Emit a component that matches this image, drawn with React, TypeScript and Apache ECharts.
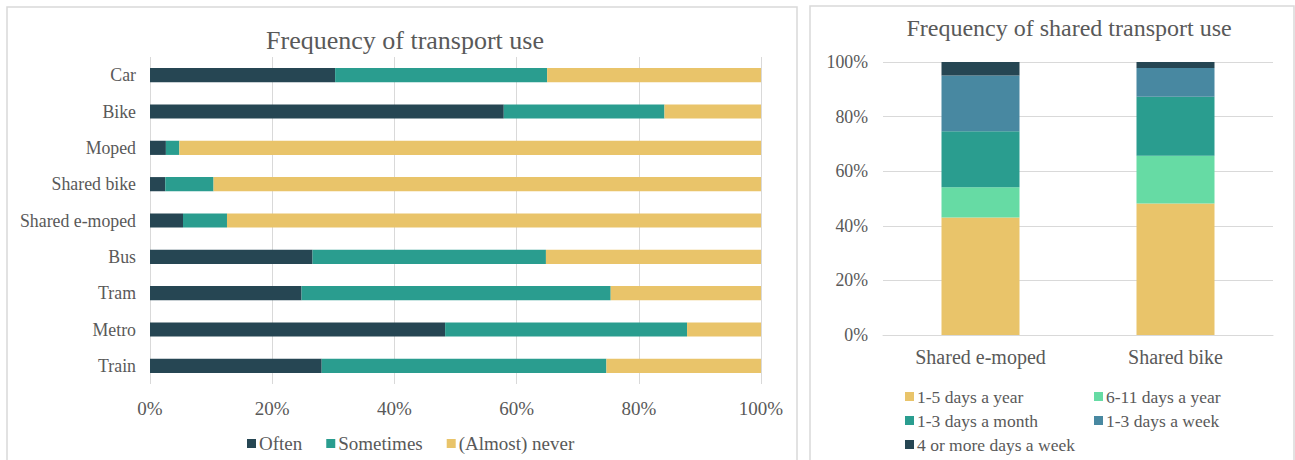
import React, { useEffect, useRef } from "react";
import * as echarts from "echarts";

const modes = ["Car", "Bike", "Moped", "Shared bike", "Shared e-moped", "Bus", "Tram", "Metro", "Train"];
const often = [30.3, 57.9, 2.6, 2.5, 5.4, 26.6, 24.8, 48.3, 28.1];
const sometimes = [34.7, 26.3, 2.2, 7.9, 7.2, 38.2, 50.6, 39.6, 46.6];
const never = [35.0, 15.8, 95.2, 89.6, 87.4, 35.2, 24.6, 12.1, 25.3];

const sharedModes = ["Shared e-moped", "Shared bike"];
const days1to5Year = [43.0, 48.2];
const days6to11Year = [11.1, 17.5];
const days1to3Month = [20.5, 21.6];
const days1to3Week = [20.5, 10.5];
const days4PlusWeek = [4.9, 2.2];

const C_DARK = "#264653";
const C_TEAL = "#2a9d8f";
const C_GOLD = "#e9c46a";
const C_MINT = "#66dba4";
const C_BLUE = "#4888a1";
const TXT = "#595959";
const FONT = "'Liberation Serif', 'DejaVu Serif', serif";

export default function App() {
  const ref = useRef<HTMLDivElement>(null);
  useEffect(() => {
    if (!ref.current) return;
    const chart = echarts.init(ref.current, undefined, { renderer: "svg" });
    const leftSeries = [
      { name: "Often", data: often, color: C_DARK },
      { name: "Sometimes", data: sometimes, color: C_TEAL },
      { name: "(Almost) never", data: never, color: C_GOLD },
    ].map((s) => ({
      type: "bar",
      name: s.name,
      data: s.data,
      stack: "left",
      xAxisIndex: 0,
      yAxisIndex: 0,
      barCategoryGap: "61%",
      itemStyle: { color: s.color },
    }));
    const rightSeries = [
      { name: "1-5 days a year", data: days1to5Year, color: C_GOLD },
      { name: "6-11 days a year", data: days6to11Year, color: C_MINT },
      { name: "1-3 days a month", data: days1to3Month, color: C_TEAL },
      { name: "1-3 days a week", data: days1to3Week, color: C_BLUE },
      { name: "4 or more days a week", data: days4PlusWeek, color: C_DARK },
    ].map((s) => ({
      type: "bar",
      name: s.name,
      data: s.data,
      stack: "right",
      xAxisIndex: 1,
      yAxisIndex: 1,
      barWidth: 78,
      itemStyle: { color: s.color },
    }));
    chart.setOption({
      animation: false,
      backgroundColor: "#ffffff",
      textStyle: { fontFamily: FONT, color: TXT },
      graphic: [
        {
          type: "rect",
          shape: { x: 7, y: 7, width: 790, height: 470 },
          style: { fill: "none", stroke: "#d9d9d9", lineWidth: 1.5 },
          silent: true,
        },
        {
          type: "rect",
          shape: { x: 810, y: 6, width: 484, height: 470 },
          style: { fill: "none", stroke: "#d9d9d9", lineWidth: 1.5 },
          silent: true,
        },
      ],
      title: [
        {
          text: "Frequency of transport use",
          left: 400,
          top: 22,
          textAlign: "center",
          textStyle: { fontFamily: FONT, fontSize: 26, fontWeight: "normal", color: TXT },
        },
        {
          text: "Frequency of shared transport use",
          left: 1064,
          top: 11,
          textAlign: "center",
          textStyle: { fontFamily: FONT, fontSize: 24, fontWeight: "normal", color: TXT },
        },
      ],
      legend: [
        {
          data: ["Often", "Sometimes", "(Almost) never"],
          left: 242,
          top: 429,
          itemWidth: 9,
          itemHeight: 9,
          itemGap: 24,
          icon: "rect",
          textStyle: { fontFamily: FONT, fontSize: 19, color: TXT, padding: [0, 0, 0, -2] },
        },
        {
          data: ["1-5 days a year", "6-11 days a year", "1-3 days a month", "1-3 days a week", "4 or more days a week"],
          left: 900,
          top: 382,
          width: 385,
          itemWidth: 9,
          itemHeight: 9,
          itemGap: 5,
          icon: "rect",
          orient: "horizontal",
          textStyle: { fontFamily: FONT, fontSize: 17.5, color: TXT, width: 172, lineHeight: 19, padding: [0, 0, 0, -2] },
        },
      ],
      grid: [
        { left: 150, right: 534, top: 57, height: 327 },
        { left: 883, right: 22, top: 62, height: 273 },
      ],
      xAxis: [
        {
          type: "value",
          gridIndex: 0,
          min: 0,
          max: 100,
          interval: 20,
          axisLabel: { formatter: "{value}%", fontFamily: FONT, fontSize: 19, color: TXT, margin: 15 },
          axisLine: { show: false },
          axisTick: { show: false },
          splitLine: { lineStyle: { color: "#d9d9d9", width: 1 } },
        },
        {
          type: "category",
          gridIndex: 1,
          data: sharedModes,
          axisLabel: { fontFamily: FONT, fontSize: 20, color: TXT, margin: 12 },
          axisLine: { lineStyle: { color: "#d9d9d9" } },
          axisTick: { show: false },
        },
      ],
      yAxis: [
        {
          type: "category",
          gridIndex: 0,
          data: modes,
          inverse: true,
          axisLabel: { fontFamily: FONT, fontSize: 17.8, color: TXT, margin: 14 },
          axisLine: { show: false },
          axisTick: { show: false },
        },
        {
          type: "value",
          gridIndex: 1,
          min: 0,
          max: 100,
          interval: 20,
          axisLabel: { formatter: "{value}%", fontFamily: FONT, fontSize: 17.8, color: TXT, margin: 15 },
          axisLine: { show: false },
          axisTick: { show: false },
          splitLine: { lineStyle: { color: "#d9d9d9", width: 1 } },
        },
      ],
      series: [...leftSeries, ...rightSeries],
    });
    return () => chart.dispose();
  }, []);
  return (
    <div
      ref={ref}
      style={{ position: "fixed", left: 0, top: 0, width: 1295, height: 460, background: "#fff" }}
    />
  );
}
